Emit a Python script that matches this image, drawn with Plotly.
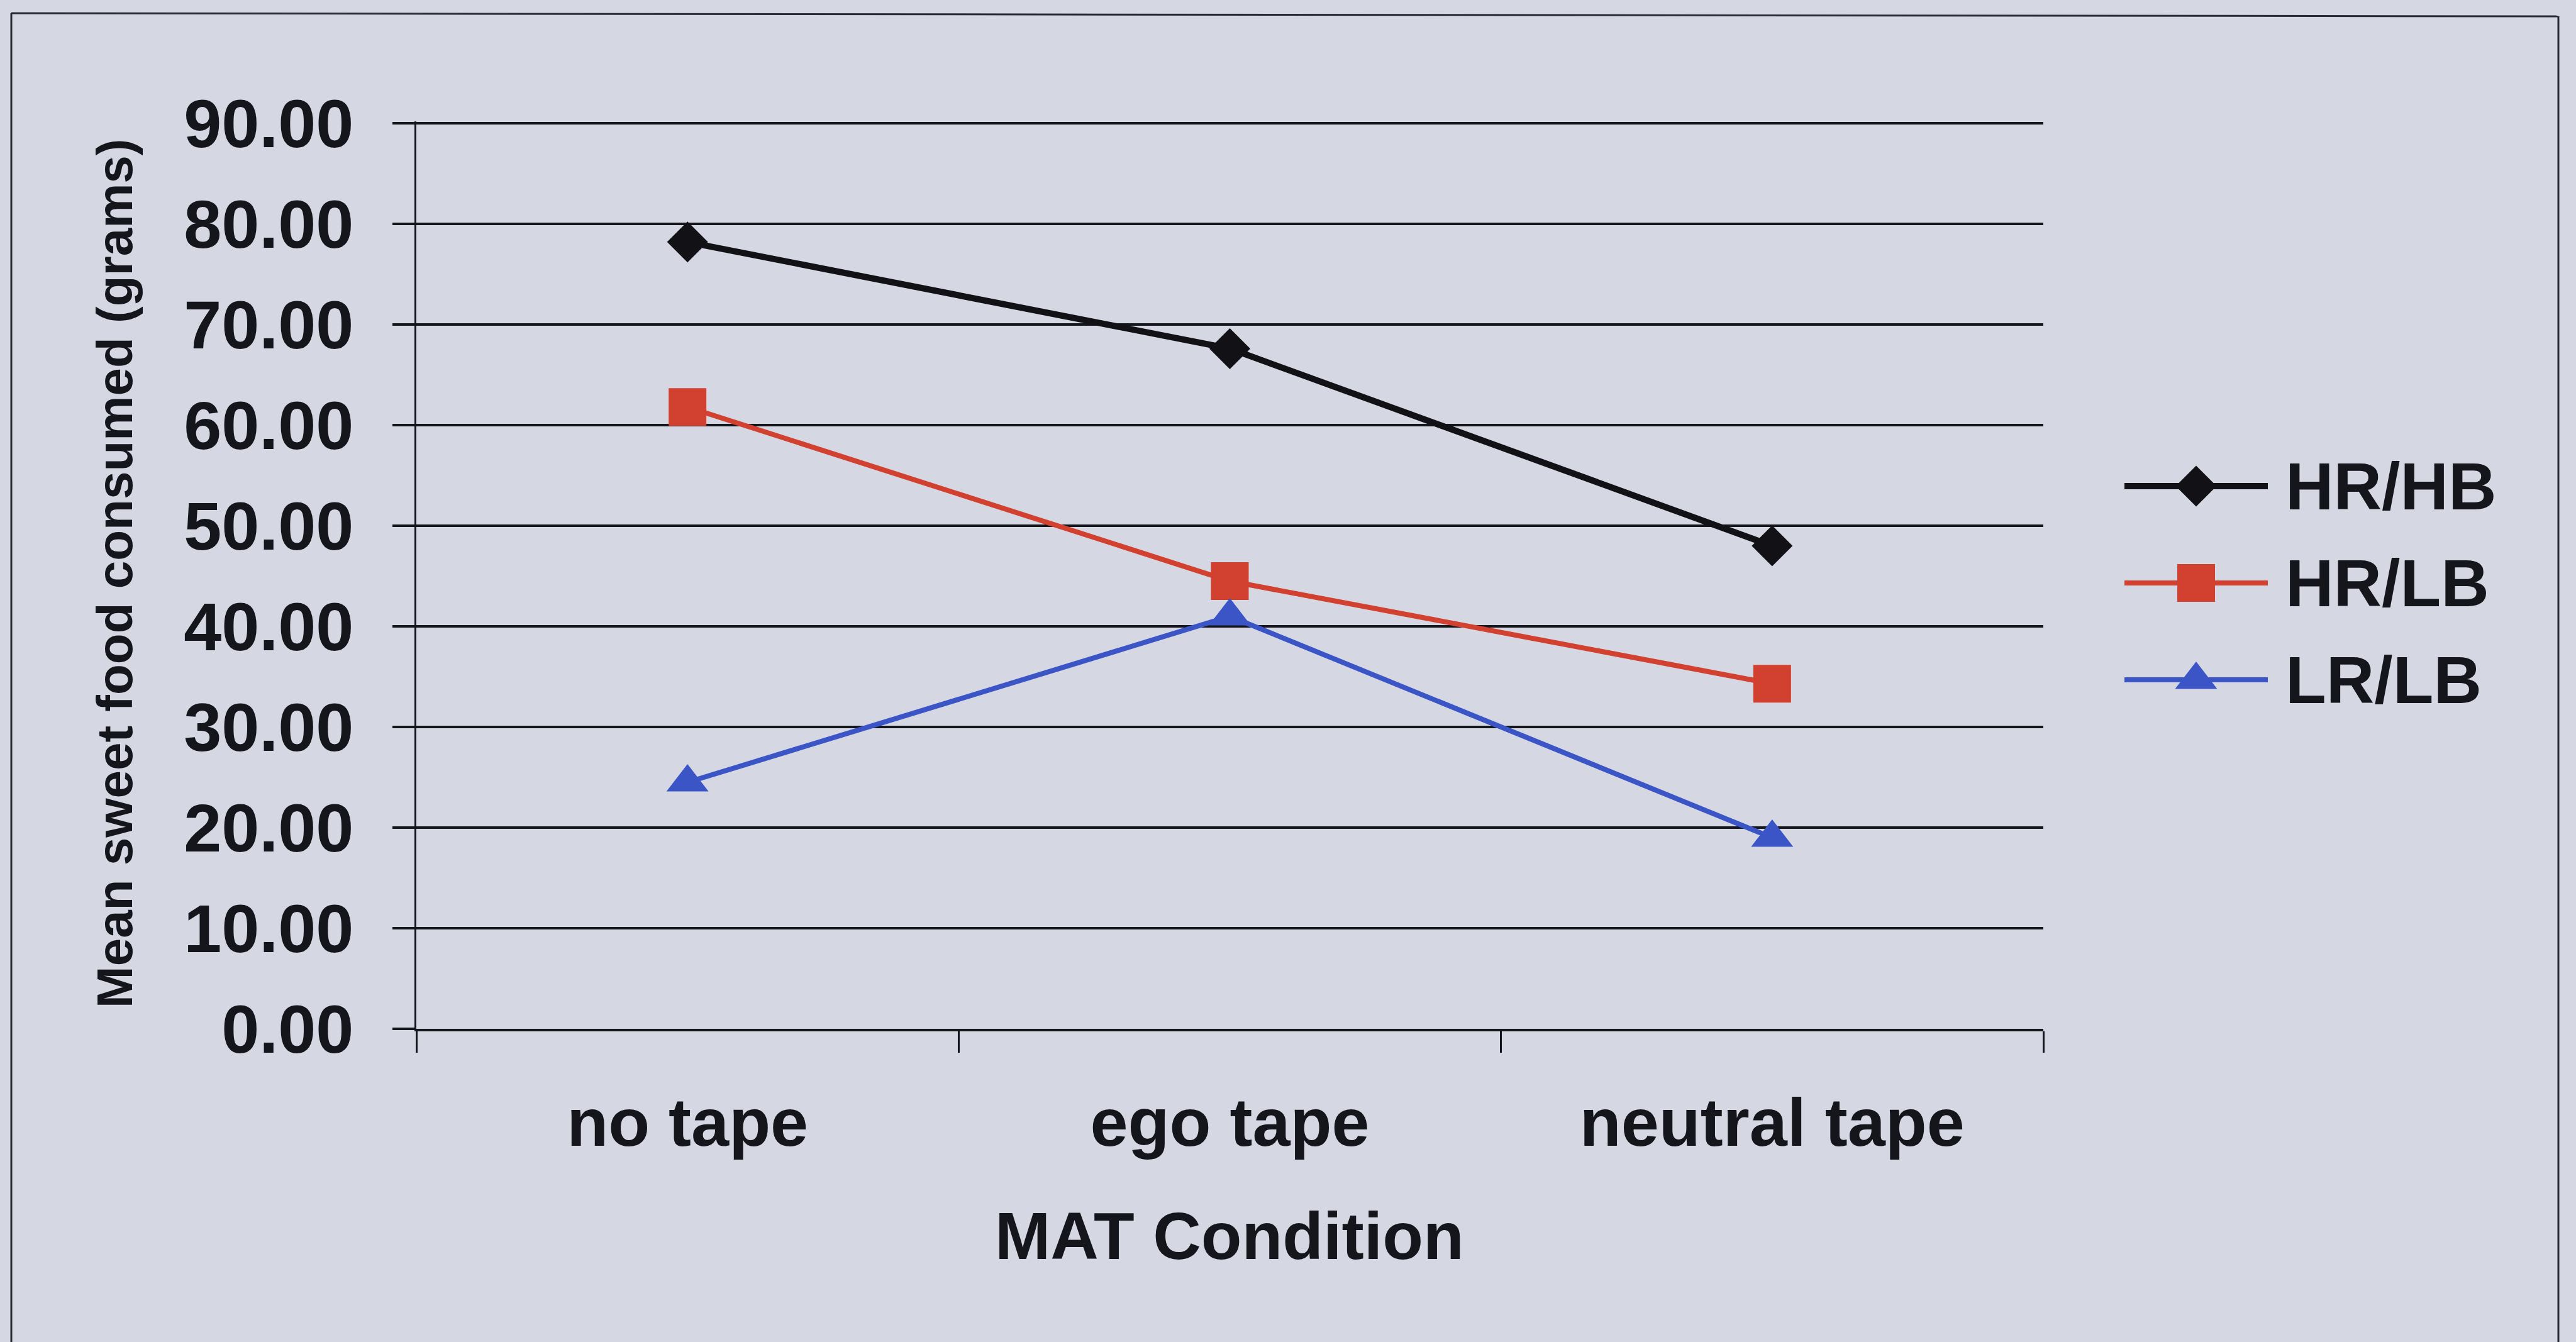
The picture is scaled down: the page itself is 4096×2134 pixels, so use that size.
import plotly.graph_objects as go

# ---- data ----
conditions = ["no tape", "ego tape", "neutral tape"]
groups = ["HR/HB", "HR/LB", "LR/LB"]
hr_hb = [78.2, 67.6, 48.0]
hr_lb = [61.8, 44.5, 34.3]
lr_lb = [24.5, 41.0, 19.0]
y_tick_values = [0, 10, 20, 30, 40, 50, 60, 70, 80, 90]
y_tick_labels = [f"{v:.2f}" for v in y_tick_values]
x_title = "MAT Condition"
y_title = "Mean sweet food consumed (grams)"

# ---- styling ----
W, H = 4096, 2134
BG = "#d5d8e3"
INK = "#15151c"
FONT = "Liberation Sans, Arial, sans-serif"
series_style = {
    "HR/HB": dict(color="#111116", symbol="diamond", size=50, width=10),
    "HR/LB": dict(color="#d2402f", symbol="square", size=60, width=8),
    "LR/LB": dict(color="#3b55c6", symbol="triangle-up", size=58, width=8),
}
series_values = {"HR/HB": hr_hb, "HR/LB": hr_lb, "LR/LB": lr_lb}

Y_MAX = 90.2          # a hair above the top tick so its gridline is kept
PLOT_TOP_AT_90 = 196  # pixel row of the 90.00 gridline
PLOT_BOTTOM = 1636    # pixel row of the 0.00 line
plot_top = PLOT_TOP_AT_90 - (Y_MAX - 90) * (PLOT_BOTTOM - PLOT_TOP_AT_90) / 90


def px_x(p):
    return p / W


def px_y(p):
    return (H - p) / H


fig = go.Figure()

for name in groups:
    st = series_style[name]
    fig.add_trace(go.Scatter(
        x=conditions, y=series_values[name], name=name,
        mode="lines+markers", cliponaxis=False,
        line=dict(color=st["color"], width=st["width"]),
        marker=dict(symbol=st["symbol"], size=st["size"], color=st["color"],
                    opacity=1, line=dict(width=0)),
        xaxis="x", yaxis="y", showlegend=False,
    ))

# legend keys drawn in their own small subplot: one row per series
for i, name in enumerate(groups):
    st = series_style[name]
    fig.add_trace(go.Scatter(
        x=[0, 1], y=[i, i], mode="lines", cliponaxis=False,
        line=dict(color=st["color"], width=st["width"]),
        xaxis="x2", yaxis="y2", showlegend=False, hoverinfo="skip",
    ))
    fig.add_trace(go.Scatter(
        x=[0.5], y=[i], mode="markers", cliponaxis=False,
        marker=dict(symbol=st["symbol"], size=st["size"], color=st["color"],
                    opacity=1, line=dict(width=0)),
        xaxis="x2", yaxis="y2", showlegend=False, hoverinfo="skip",
    ))

annotations = []
for i, name in enumerate(groups):
    annotations.append(dict(
        x=1, y=i, xref="x2", yref="y2", text=name, showarrow=False,
        xanchor="left", yanchor="middle", xshift=26,
        font=dict(family=FONT, size=106, color=INK, weight=700),
    ))

annotations.append(dict(
    x=px_x(1955), y=px_y(1965), xref="paper", yref="paper", text=x_title,
    showarrow=False, xanchor="center", yanchor="middle",
    font=dict(family=FONT, size=106, color=INK, weight=700),
))
annotations.append(dict(
    x=px_x(182), y=px_y(912), xref="paper", yref="paper", text=y_title,
    showarrow=False, textangle=-90, xanchor="center", yanchor="middle",
    font=dict(family=FONT, size=80, color=INK, weight=700),
))

# outer frame of the chart area
frame = [
    ((18, H), (18, 21)),
    ((18, 21), (4068, 26)),
    ((4068, 26), (4068, H)),
]
shapes = [
    dict(type="line", xref="paper", yref="paper",
         x0=px_x(a[0]), y0=px_y(a[1]), x1=px_x(b[0]), y1=px_y(b[1]),
         line=dict(color="#2a2a33", width=3))
    for a, b in frame
]

row_h = 154
legend_top = 773 - row_h / 2
legend_bot = 1081 + row_h / 2

fig.update_layout(
    width=W, height=H, autosize=False,
    margin=dict(l=0, r=0, t=0, b=0, pad=0, autoexpand=False),
    paper_bgcolor=BG, plot_bgcolor=BG,
    showlegend=False,
    xaxis=dict(
        domain=[px_x(662), px_x(3249)],
        type="category", categoryorder="array", categoryarray=conditions,
        range=[-0.5, 2.5], tickson="boundaries",
        showgrid=False, zeroline=False,
        showline=True, linecolor=INK, linewidth=4,
        ticks="outside", ticklen=34, tickwidth=3, tickcolor=INK,
        ticklabelstandoff=52,
        tickfont=dict(family=FONT, size=108, color=INK, weight=700),
        anchor="y", automargin=False,
    ),
    yaxis=dict(
        domain=[px_y(PLOT_BOTTOM), px_y(plot_top)],
        range=[0, Y_MAX], tickvals=y_tick_values, ticktext=y_tick_labels,
        showgrid=True, gridcolor=INK, gridwidth=4, zeroline=False,
        showline=True, linecolor=INK, linewidth=3,
        ticks="outside", ticklen=35, tickwidth=4, tickcolor=INK,
        ticklabelstandoff=40,
        tickfont=dict(family=FONT, size=108, color=INK, weight=700),
        anchor="x", automargin=False,
    ),
    xaxis2=dict(domain=[px_x(3378), px_x(3606)], range=[0, 1],
                visible=False, fixedrange=True, anchor="y2"),
    yaxis2=dict(domain=[px_y(legend_bot), px_y(legend_top)],
                range=[len(groups) - 0.5, -0.5],
                visible=False, fixedrange=True, anchor="x2"),
    annotations=annotations,
    shapes=shapes,
)

fig.write_html("out.html", config={"displayModeBar": False})
